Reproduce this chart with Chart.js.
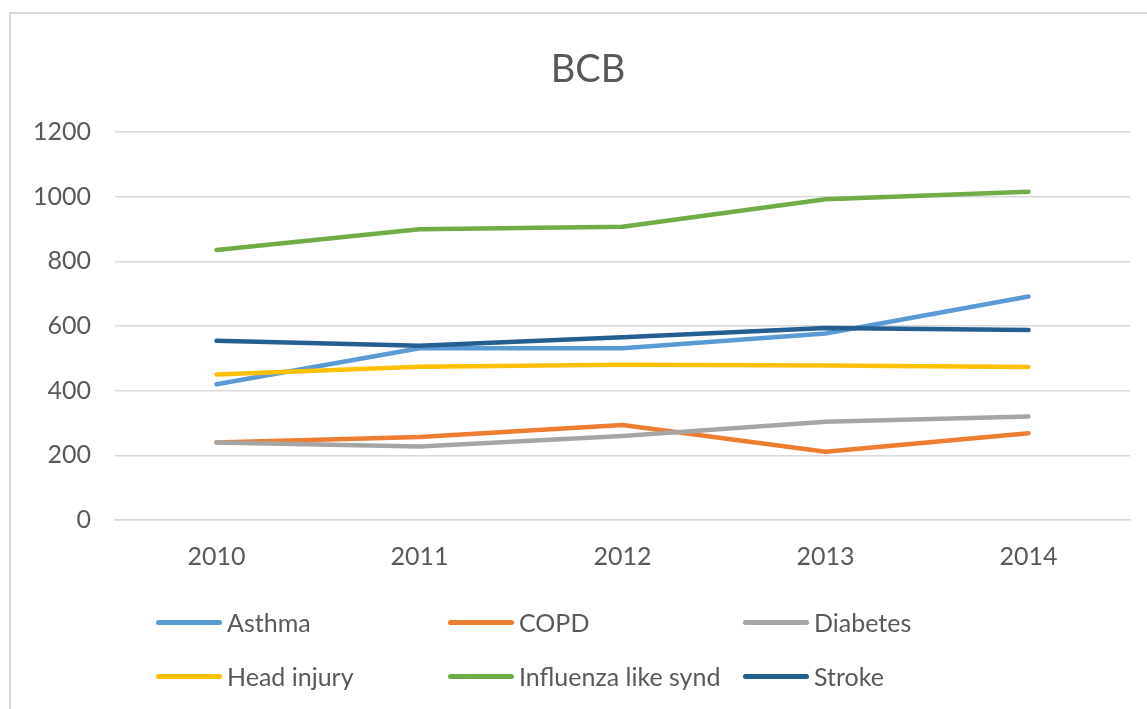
<!DOCTYPE html>
<html>
<head>
<meta charset="utf-8">
<script src="https://cdn.jsdelivr.net/npm/chart.js@4.4.1/dist/chart.umd.min.js"></script>
<style>
  html, body { margin: 0; padding: 0; background: #fff; }
  body { width: 1147px; height: 709px; position: relative; overflow: hidden; font-family: Lato, "Open Sans", sans-serif; }
  #frame { position: absolute; left: 9px; top: 12px; width: 1200px; height: 760px; border: 2px solid #d9d9d9; box-sizing: border-box; }
  #wrap { position: absolute; left: 0; top: 0; width: 1147px; height: 600px; }
  #title { position: absolute; left: 388px; top: 44px; width: 400px; text-align: center; color: #595959; font-size: 38px; line-height: 46px; }
  #legend { position: absolute; left: 0; top: 0; width: 1147px; height: 709px; pointer-events: none; }
  .item { position: absolute; display: flex; align-items: center; height: 30px; color: #595959; font-size: 25px; white-space: nowrap; }
  .swatch { width: 66px; height: 5px; border-radius: 3px; margin-right: 5px; }
</style>
</head>
<body>
<div id="frame"></div>
<div id="wrap"><canvas id="lineChart" width="1147" height="600"></canvas></div>
<div id="title">BCB</div>
<div id="legend"></div>
<script>
// dados
const years = ['2010', '2011', '2012', '2013', '2014'];
const seriesNames = ['Asthma', 'COPD', 'Diabetes', 'Head injury', 'Influenza like synd', 'Stroke'];
const asthma = [420, 531, 531, 577, 691];
const copd = [240, 257, 294, 211, 268];
const diabetes = [240, 227, 260, 304, 320];
const headInjury = [450, 474, 480, 478, 473];
const influenza = [835, 899, 907, 992, 1015];
const stroke = [554, 539, 565, 594, 588];
const yTicks = [0, 200, 400, 600, 800, 1000, 1200];

const seriesValues = [asthma, copd, diabetes, headInjury, influenza, stroke];
const colors = ['#5B9BD5', '#ED7D31', '#A5A5A5', '#FFC000', '#70AD47', '#255E91'];

const datasets = seriesNames.map((name, i) => ({
  label: name,
  data: seriesValues[i],
  borderColor: colors[i],
  backgroundColor: colors[i],
  borderWidth: 4.5,
  pointRadius: 0,
  pointHoverRadius: 0,
  tension: 0,
  borderCapStyle: 'round',
  borderJoinStyle: 'round',
  fill: false,
  order: seriesNames.length - i // a última série fica por cima, como no Excel
}));

const ctx = document.getElementById('lineChart').getContext('2d');
new Chart(ctx, {
  type: 'line',
  data: { labels: years, datasets: datasets },
  options: {
    responsive: false,
    animation: false,
    layout: { padding: { left: 0, right: 17, top: 132, bottom: 0 } },
    plugins: {
      legend: { display: false },
      tooltip: { enabled: false },
      title: { display: false }
    },
    scales: {
      x: {
        offset: true,
        grid: { display: false, drawTicks: false },
        border: { display: true, color: '#d9d9d9', width: 1.5 },
        ticks: { color: '#595959', font: { family: 'Lato', size: 25 }, padding: 22, maxRotation: 0 },
        afterFit: (scale) => { scale.height = 80; }
      },
      y: {
        min: 0,
        max: 1200,
        afterBuildTicks: (scale) => { scale.ticks = yTicks.map(v => ({ value: v })); },
        grid: { color: '#d9d9d9', lineWidth: 1.5, drawTicks: false },
        border: { display: false },
        ticks: {
          color: '#595959',
          font: { family: 'Lato', size: 25 },
          padding: 24,
          callback: (value) => String(value)
        },
        afterFit: (scale) => { scale.width = 115; }
      }
    }
  }
});

// legenda em três colunas, como no original
const legend = document.getElementById('legend');
const colX = [156, 448, 743];
const rowY = [622, 676];
seriesNames.forEach((name, i) => {
  const item = document.createElement('div');
  item.className = 'item';
  item.style.left = colX[i % 3] + 'px';
  item.style.top = (rowY[Math.floor(i / 3)] - 15) + 'px';
  const sw = document.createElement('div');
  sw.className = 'swatch';
  sw.style.background = colors[i];
  const txt = document.createElement('span');
  txt.textContent = name;
  item.appendChild(sw);
  item.appendChild(txt);
  legend.appendChild(item);
});
</script>
</body>
</html>
